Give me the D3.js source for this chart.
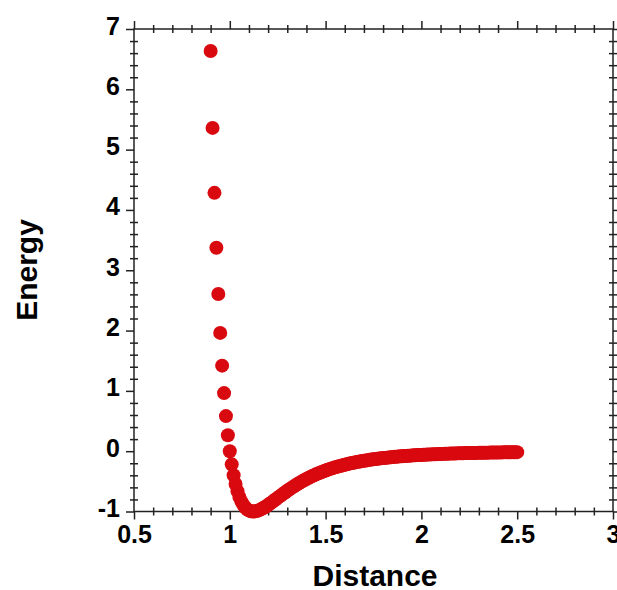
<!DOCTYPE html>
<html>
<head>
<meta charset="utf-8">
<script src="https://cdn.jsdelivr.net/npm/d3@7"></script>
<style>
  body { margin: 0; background: #fff; }
  svg { display: block; }
  text { font-family: "Liberation Sans", Arial, sans-serif; font-weight: bold; fill: #000; }
  .axis path, .axis line { stroke: #222; stroke-width: 1.5; }
  .axis text { font-size: 25px; }
  .title { font-size: 30px; }
</style>
</head>
<body>
<svg width="617" height="590"></svg>
<script>
// distance (sigma units) and energy (epsilon units)
const distance = [
  0.90, 0.91, 0.92, 0.93, 0.94, 0.95, 0.96, 0.97, 0.98, 0.99,
  1.00, 1.01, 1.02, 1.03, 1.04, 1.05, 1.06, 1.07, 1.08, 1.09,
  1.10, 1.11, 1.12, 1.13, 1.14, 1.15, 1.16, 1.17, 1.18, 1.19,
  1.20, 1.21, 1.22, 1.23, 1.24, 1.25, 1.26, 1.27, 1.28, 1.29,
  1.30, 1.31, 1.32, 1.33, 1.34, 1.35, 1.36, 1.37, 1.38, 1.39,
  1.40, 1.41, 1.42, 1.43, 1.44, 1.45, 1.46, 1.47, 1.48, 1.49,
  1.50, 1.51, 1.52, 1.53, 1.54, 1.55, 1.56, 1.57, 1.58, 1.59,
  1.60, 1.61, 1.62, 1.63, 1.64, 1.65, 1.66, 1.67, 1.68, 1.69,
  1.70, 1.71, 1.72, 1.73, 1.74, 1.75, 1.76, 1.77, 1.78, 1.79,
  1.80, 1.81, 1.82, 1.83, 1.84, 1.85, 1.86, 1.87, 1.88, 1.89,
  1.90, 1.91, 1.92, 1.93, 1.94, 1.95, 1.96, 1.97, 1.98, 1.99,
  2.00, 2.01, 2.02, 2.03, 2.04, 2.05, 2.06, 2.07, 2.08, 2.09,
  2.10, 2.11, 2.12, 2.13, 2.14, 2.15, 2.16, 2.17, 2.18, 2.19,
  2.20, 2.21, 2.22, 2.23, 2.24, 2.25, 2.26, 2.27, 2.28, 2.29,
  2.30, 2.31, 2.32, 2.33, 2.34, 2.35, 2.36, 2.37, 2.38, 2.39,
  2.40, 2.41, 2.42, 2.43, 2.44, 2.45, 2.46, 2.47, 2.48, 2.49,
  2.50
]

const energy = [
  6.636, 5.360, 4.283, 3.373, 2.607, 1.961, 1.418, 0.963, 0.582, 0.264,
  0.000, -0.218, -0.398, -0.544, -0.663, -0.758, -0.832, -0.889, -0.932, -0.963,
  -0.983, -0.995, -1.000, -0.998, -0.992, -0.982, -0.968, -0.951, -0.933, -0.913,
  -0.891, -0.868, -0.845, -0.822, -0.798, -0.774, -0.750, -0.726, -0.703, -0.680,
  -0.657, -0.635, -0.613, -0.592, -0.572, -0.552, -0.532, -0.513, -0.495, -0.478,
  -0.461, -0.444, -0.428, -0.413, -0.398, -0.384, -0.370, -0.357, -0.344, -0.332,
  -0.320, -0.309, -0.298, -0.287, -0.277, -0.268, -0.258, -0.249, -0.241, -0.232,
  -0.224, -0.216, -0.209, -0.202, -0.195, -0.188, -0.182, -0.176, -0.170, -0.164,
  -0.159, -0.154, -0.149, -0.144, -0.139, -0.134, -0.130, -0.126, -0.122, -0.118,
  -0.114, -0.111, -0.107, -0.104, -0.100, -0.097, -0.094, -0.091, -0.089, -0.086,
  -0.083, -0.081, -0.078, -0.076, -0.074, -0.071, -0.069, -0.067, -0.065, -0.063,
  -0.062, -0.060, -0.058, -0.056, -0.055, -0.053, -0.052, -0.050, -0.049, -0.047,
  -0.046, -0.045, -0.044, -0.042, -0.041, -0.040, -0.039, -0.038, -0.037, -0.036,
  -0.035, -0.034, -0.033, -0.032, -0.031, -0.031, -0.030, -0.029, -0.028, -0.028,
  -0.027, -0.026, -0.025, -0.025, -0.024, -0.024, -0.023, -0.022, -0.022, -0.021,
  -0.021, -0.020, -0.020, -0.019, -0.019, -0.018, -0.018, -0.017, -0.017, -0.017,
  -0.016
]

const xTicks = [0.5, 1, 1.5, 2, 2.5, 3]
const yTicks = [-1, 0, 1, 2, 3, 4, 5, 6, 7]

const svg = d3.select("svg")

const x = d3.scaleLinear().domain([0.5, 3]).range([134, 613])
const y = d3.scaleLinear().domain([-1, 7]).range([511.5, 29])

// minor ticks: 0.1 on x, 0.2 on y
const xMinor = d3.range(0.6, 3, 0.1).filter(v => Math.abs(v * 2 - Math.round(v * 2)) > 0.01)
const yMinor = d3.range(-0.8, 7, 0.2).filter(v => Math.abs(v - Math.round(v)) > 0.01)

// plain hyphen for negatives, like the original
const fmt = d => String(d)

// frame
svg.append("rect")
    .attr("x", x(0.5))
    .attr("y", y(7))
    .attr("width", x(3) - x(0.5))
    .attr("height", y(-1) - y(7))
    .attr("fill", "none")
    .attr("stroke", "#222")
    .attr("stroke-width", 1.5)

// major ticks, outward
const bottom = svg.append("g").attr("class", "axis")
    .attr("transform", "translate(0," + y(-1) + ")")
    .call(d3.axisBottom(x).tickValues(xTicks).tickSize(8).tickSizeOuter(0).tickPadding(6).tickFormat(fmt))
bottom.select(".domain").remove()

const left = svg.append("g").attr("class", "axis")
    .attr("transform", "translate(" + x(0.5) + ",0)")
    .call(d3.axisLeft(y).tickValues(yTicks).tickSize(8).tickSizeOuter(0).tickPadding(6).tickFormat(fmt))
left.select(".domain").remove()
left.selectAll("text").attr("dy", "0.2em")

svg.append("g").attr("class", "axis")
    .attr("transform", "translate(0," + y(7) + ")")
    .call(d3.axisTop(x).tickValues(xTicks).tickSize(8).tickSizeOuter(0).tickFormat(""))
    .select(".domain").remove()

svg.append("g").attr("class", "axis")
    .attr("transform", "translate(" + x(3) + ",0)")
    .call(d3.axisRight(y).tickValues(yTicks).tickSize(8).tickSizeOuter(0).tickFormat(""))
    .select(".domain").remove()

// minor ticks, crossing the frame
svg.append("g").attr("class", "axis")
    .attr("transform", "translate(0," + (y(-1) - 4) + ")")
    .call(d3.axisBottom(x).tickValues(xMinor).tickSize(8).tickFormat(""))
    .select(".domain").remove()

svg.append("g").attr("class", "axis")
    .attr("transform", "translate(0," + (y(7) - 4) + ")")
    .call(d3.axisBottom(x).tickValues(xMinor).tickSize(8).tickFormat(""))
    .select(".domain").remove()

svg.append("g").attr("class", "axis")
    .attr("transform", "translate(" + (x(0.5) + 4) + ",0)")
    .call(d3.axisLeft(y).tickValues(yMinor).tickSize(8).tickFormat(""))
    .select(".domain").remove()

svg.append("g").attr("class", "axis")
    .attr("transform", "translate(" + (x(3) + 4) + ",0)")
    .call(d3.axisLeft(y).tickValues(yMinor).tickSize(8).tickFormat(""))
    .select(".domain").remove()

// points
svg.append("g")
    .selectAll("circle")
    .data(distance)
    .enter()
    .append("circle")
    .attr("cx", d => x(d))
    .attr("cy", (d, i) => y(energy[i]))
    .attr("r", 7)
    .attr("fill", "#d8090f")

// axis titles
svg.append("text")
    .attr("class", "title")
    .attr("x", 375)
    .attr("y", 586)
    .attr("text-anchor", "middle")
    .text("Distance")

svg.append("text")
    .attr("class", "title")
    .attr("transform", "translate(37,270) rotate(-90)")
    .attr("text-anchor", "middle")
    .text("Energy")
</script>
</body>
</html>
